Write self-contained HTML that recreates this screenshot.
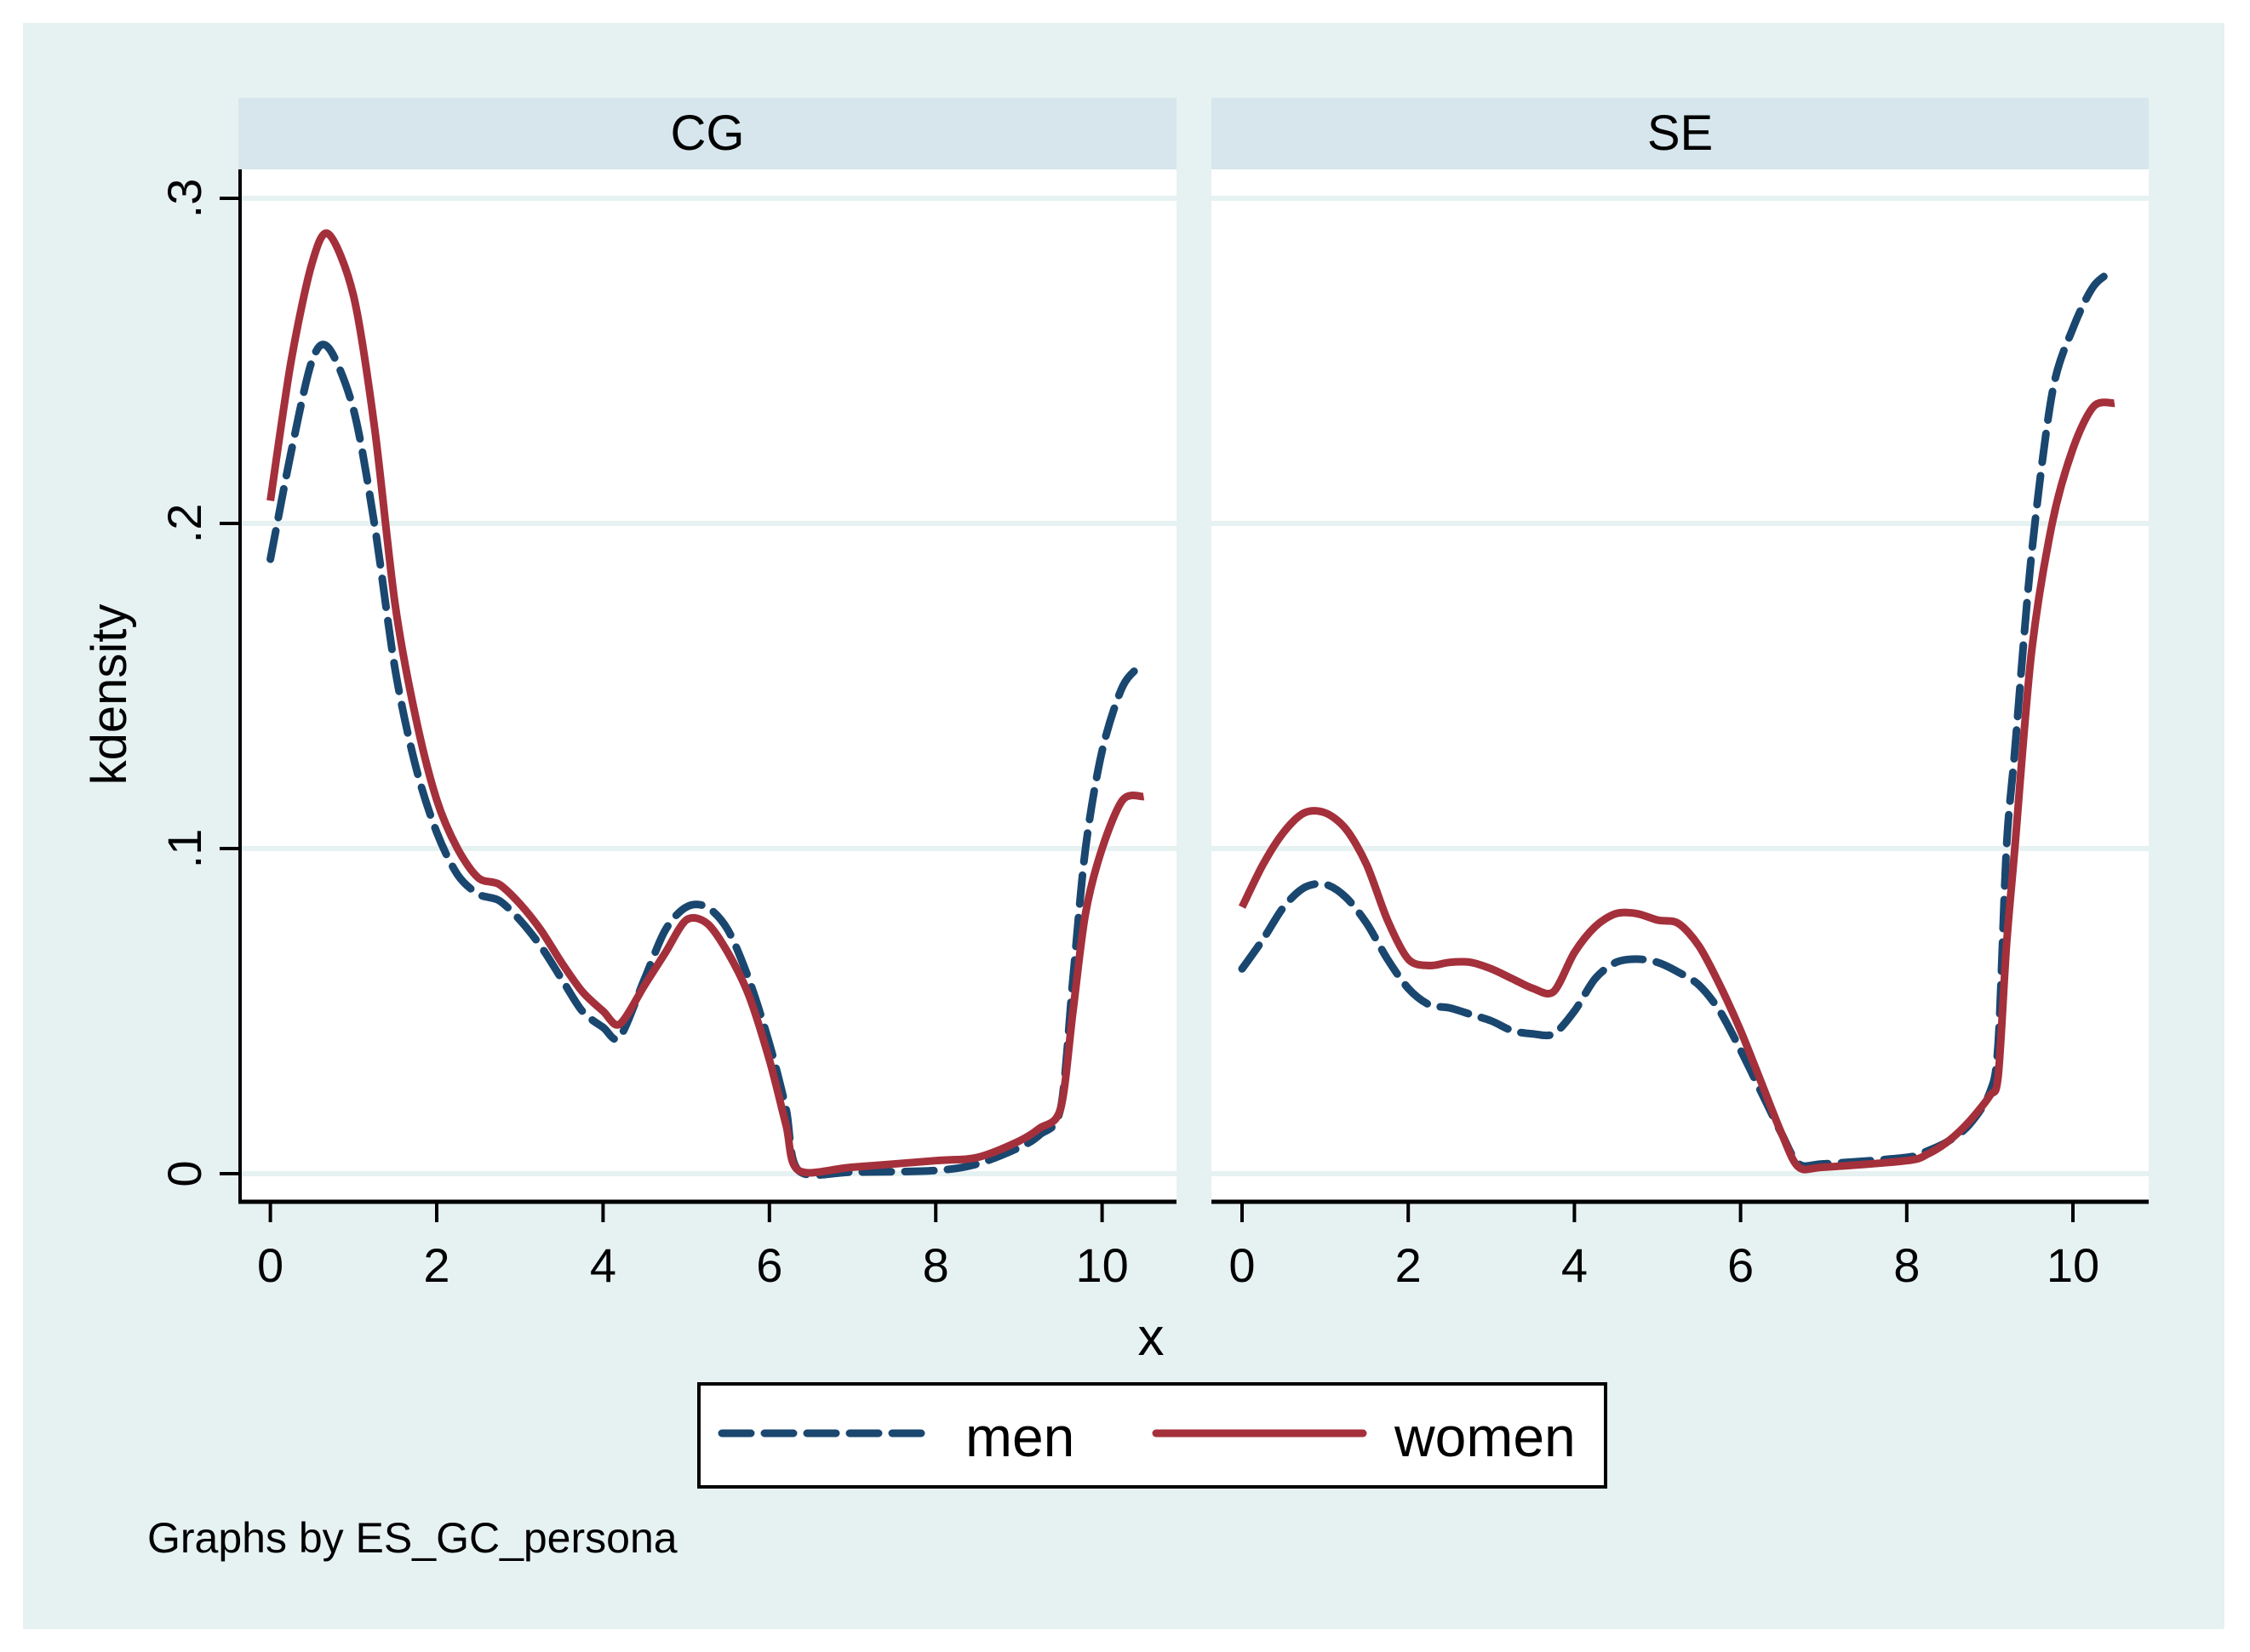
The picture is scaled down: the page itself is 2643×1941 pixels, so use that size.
<!DOCTYPE html>
<html><head><meta charset="utf-8"><style>
html,body{margin:0;padding:0;background:#fff;}
svg{display:block;}
text{font-family:"Liberation Sans",sans-serif;fill:#000;}
</style></head><body>
<svg id="chart" width="2643" height="1941" viewBox="0 0 2643 1941" xmlns="http://www.w3.org/2000/svg">
<rect x="0" y="0" width="2643" height="1941" fill="#fff"/>
<rect x="27" y="27" width="2586" height="1887" fill="#e6f1f1"/>
<g id="panels"></g>
<text x="1352" y="1592" font-size="62" text-anchor="middle">x</text>
<text transform="translate(148,816) rotate(-90)" font-size="58" text-anchor="middle">kdensity</text>
<g>
<rect x="821" y="1626" width="1065" height="121" fill="#fff" stroke="#000" stroke-width="4"/>
<line x1="848" y1="1684" x2="1090" y2="1684" stroke="#1a476f" stroke-width="9" stroke-dasharray="34,16" stroke-linecap="round"/>
<text x="1134" y="1711" font-size="66">men</text>
<line x1="1358" y1="1684" x2="1601" y2="1684" stroke="#a4303b" stroke-width="9" stroke-linecap="round"/>
<text x="1638" y="1711" font-size="66">women</text>
</g>
<text x="173" y="1824" font-size="50">Graphs by ES_GC_persona</text>
</svg>
<script>
const xs = [0,0.25,0.5,0.7,1,1.25,1.5,1.75,2,2.25,2.5,2.75,3,3.25,3.5,3.75,4,4.2,4.5,4.75,5,5.25,5.5,5.75,6,6.2,6.35,7,8,8.5,9,9.25,9.5,9.65,9.8,10,10.25,10.5];
const cgMen =   [0.189,0.222,0.250,0.254,0.235,0.200,0.155,0.125,0.105,0.092,0.086,0.084,0.078,0.070,0.060,0.050,0.045,0.042,0.060,0.075,0.082,0.082,0.075,0.060,0.040,0.020,0.001,0.0005,0.001,0.003,0.008,0.012,0.020,0.060,0.100,0.130,0.150,0.157];
const cgWomen = [0.207,0.250,0.280,0.289,0.270,0.230,0.175,0.140,0.115,0.100,0.091,0.089,0.083,0.075,0.065,0.056,0.050,0.046,0.058,0.068,0.078,0.077,0.068,0.055,0.035,0.015,0.001,0.002,0.004,0.005,0.010,0.014,0.020,0.050,0.080,0.100,0.115,0.116];
const xs2 = [0,0.25,0.5,0.75,1,1.25,1.5,1.75,2,2.25,2.5,2.75,3,3.25,3.5,3.75,4,4.25,4.5,4.75,5,5.25,5.5,5.75,6,6.25,6.5,6.7,7,8,8.25,8.5,8.75,9,9.1,9.2,9.3,9.5,9.75,10,10.25,10.5];
const seMen =   [0.063,0.072,0.082,0.088,0.089,0.085,0.077,0.066,0.057,0.052,0.051,0.049,0.047,0.044,0.043,0.043,0.050,0.060,0.065,0.066,0.065,0.062,0.058,0.050,0.038,0.025,0.012,0.003,0.003,0.005,0.007,0.010,0.015,0.025,0.040,0.100,0.130,0.190,0.240,0.260,0.273,0.278];
const seWomen = [0.082,0.095,0.105,0.111,0.111,0.106,0.095,0.078,0.066,0.064,0.065,0.065,0.063,0.060,0.057,0.056,0.068,0.076,0.080,0.080,0.078,0.077,0.070,0.058,0.044,0.028,0.012,0.002,0.002,0.004,0.006,0.010,0.016,0.024,0.030,0.070,0.100,0.160,0.200,0.223,0.236,0.237];
const xTicks = [0,2,4,6,8,10];
const yTicks = [0,0.1,0.2,0.3];
const yTickLabels = ["0",".1",".2",".3"];
const panelNames = ["CG","SE"];

const NS = "http://www.w3.org/2000/svg";
const root = document.getElementById('panels');
function mk(tag, attrs, parent){const e=document.createElementNS(NS,tag);for(const k in attrs)e.setAttribute(k,attrs[k]);parent.appendChild(e);return e;}
const yPx = v => 1379 - 3820*v;
function smooth(pts){
  let d='M'+pts[0][0].toFixed(1)+','+pts[0][1].toFixed(1);
  for(let i=0;i<pts.length-1;i++){
    const p0=pts[Math.max(0,i-1)],p1=pts[i],p2=pts[i+1],p3=pts[Math.min(pts.length-1,i+2)];
    const t=0.15;
    const c1=[p1[0]+(p2[0]-p0[0])*t,p1[1]+(p2[1]-p0[1])*t];
    const c2=[p2[0]-(p3[0]-p1[0])*t,p2[1]-(p3[1]-p1[1])*t];
    d+=` C${c1[0].toFixed(1)},${c1[1].toFixed(1)} ${c2[0].toFixed(1)},${c2[1].toFixed(1)} ${p2[0].toFixed(1)},${p2[1].toFixed(1)}`;
  }
  return d;
}
const panels = [
  {left:280,right:1382,x0:317.6,sx:97.7,xv:xs,men:cgMen,women:cgWomen},
  {left:1423,right:2524,x0:1459,sx:97.6,xv:xs2,men:seMen,women:seWomen}
];
panels.forEach((p,i)=>{
  const xPx = v => p.x0 + p.sx*v;
  const g = mk('g',{},root);
  
  
  const strip = mk('rect',{x:p.left,y:115,width:p.right-p.left,height:84,fill:'#d6e6ec'},g);
  
  
  const st = mk('text',{x:(p.left+p.right)/2,y:176,'font-size':58,'text-anchor':'middle'},g);
  st.textContent = panelNames[i];
  
  
  const pr = mk('rect',{x:p.left,y:199,width:p.right-p.left,height:1213,fill:'#fff'},g);
  
  
  yTicks.forEach(t=>{
    const gl = mk('line',{x1:p.left,x2:p.right,y1:yPx(t),y2:yPx(t),stroke:'#e6f1f1','stroke-width':6},g);
    
    
  });
  const ax = mk('line',{x1:p.left,x2:p.right,y1:1412,y2:1412,stroke:'#000','stroke-width':5},g);
  
  
  xTicks.forEach(t=>{
    const tl = mk('line',{x1:xPx(t),x2:xPx(t),y1:1412,y2:1436,stroke:'#000','stroke-width':4},g);
    
    
    const tt = mk('text',{x:xPx(t),y:1506,'font-size':56,'text-anchor':'middle'},g);
    tt.textContent = String(t);
    
    
  });
  if(i===0){
    const ay = mk('line',{x1:282,x2:282,y1:199,y2:1414,stroke:'#000','stroke-width':4},g);
    
    
    yTicks.forEach((t,k)=>{
      const tl = mk('line',{x1:258,x2:282,y1:yPx(t),y2:yPx(t),stroke:'#000','stroke-width':4},g);
      
      
      const tt = mk('text',{transform:`translate(236,${yPx(t)}) rotate(-90)`,'font-size':56,'text-anchor':'middle'},g);
      tt.textContent = yTickLabels[k];
      
      
    });
  }
  const path = arr => smooth(arr.map((v,k)=>[xPx(p.xv[k]), yPx(v)]));
  const m = mk('path',{d:path(p.men),fill:'none',stroke:'#1a476f','stroke-width':9,'stroke-dasharray':'34,16','stroke-linecap':'round','stroke-linejoin':'round'},g);
  
  
  const w = mk('path',{d:path(p.women),fill:'none',stroke:'#a4303b','stroke-width':9,'stroke-linejoin':'round'},g);
  
  
});
</script>
</body></html>
